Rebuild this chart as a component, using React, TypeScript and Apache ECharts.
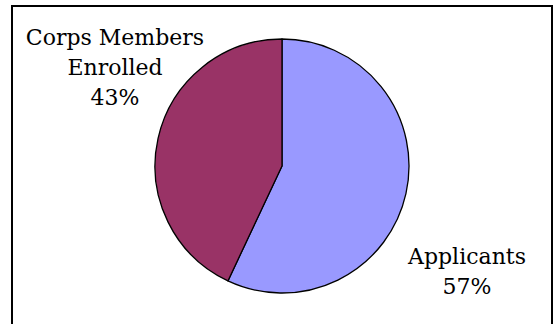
import React, { useEffect, useRef } from "react";
import * as echarts from "echarts";

const categories = ["Applicants", "Corps Members Enrolled"];
const values = [57, 43];
const colors = ["#9999FF", "#993366"];
const labelLines = [["Applicants"], ["Corps Members", "Enrolled"]];

export default function App() {
  const ref = useRef<HTMLDivElement>(null);
  useEffect(() => {
    if (!ref.current) return;
    const chart = echarts.init(ref.current, null, { renderer: "svg" });
    const labelPos = [
      { x: 467, y: 271 },
      { x: 115, y: 67 },
    ];
    chart.setOption({
      animation: false,
      backgroundColor: "#ffffff",
      graphic: [
        {
          type: "rect",
          shape: { x: 12, y: 6, width: 540, height: 320 },
          style: { fill: "none", stroke: "#000", lineWidth: 2 },
          silent: true,
        },
      ],
      series: [
        {
          type: "pie",
          center: [282, 166],
          radius: 127,
          startAngle: 90,
          clockwise: true,
          data: categories.map((name, i) => ({
            name,
            value: values[i],
            itemStyle: { color: colors[i] },
          })),
          itemStyle: { borderColor: "#000", borderWidth: 1.3 },
          label: {
            show: true,
            position: "outside",
            color: "#000",
            fontFamily: "DejaVu Serif",
            fontSize: 22,
            lineHeight: 30,
            align: "center",
            overflow: "none",
            width: 300,
            formatter: (p: any) =>
              labelLines[p.dataIndex].join("\n") + "\n" + Math.round(p.percent) + "%",
          },
          labelLine: { show: false },
          labelLayout: (p: any) => ({
            x: labelPos[p.dataIndex].x,
            y: labelPos[p.dataIndex].y,
            align: "center",
            verticalAlign: "middle",
            hideOverlap: false,
          }),
          emphasis: { disabled: true },
        },
      ],
    });
    return () => chart.dispose();
  }, []);
  return (
    <div
      ref={ref}
      style={{ position: "fixed", left: 0, top: 0, width: 554, height: 324 }}
    />
  );
}
